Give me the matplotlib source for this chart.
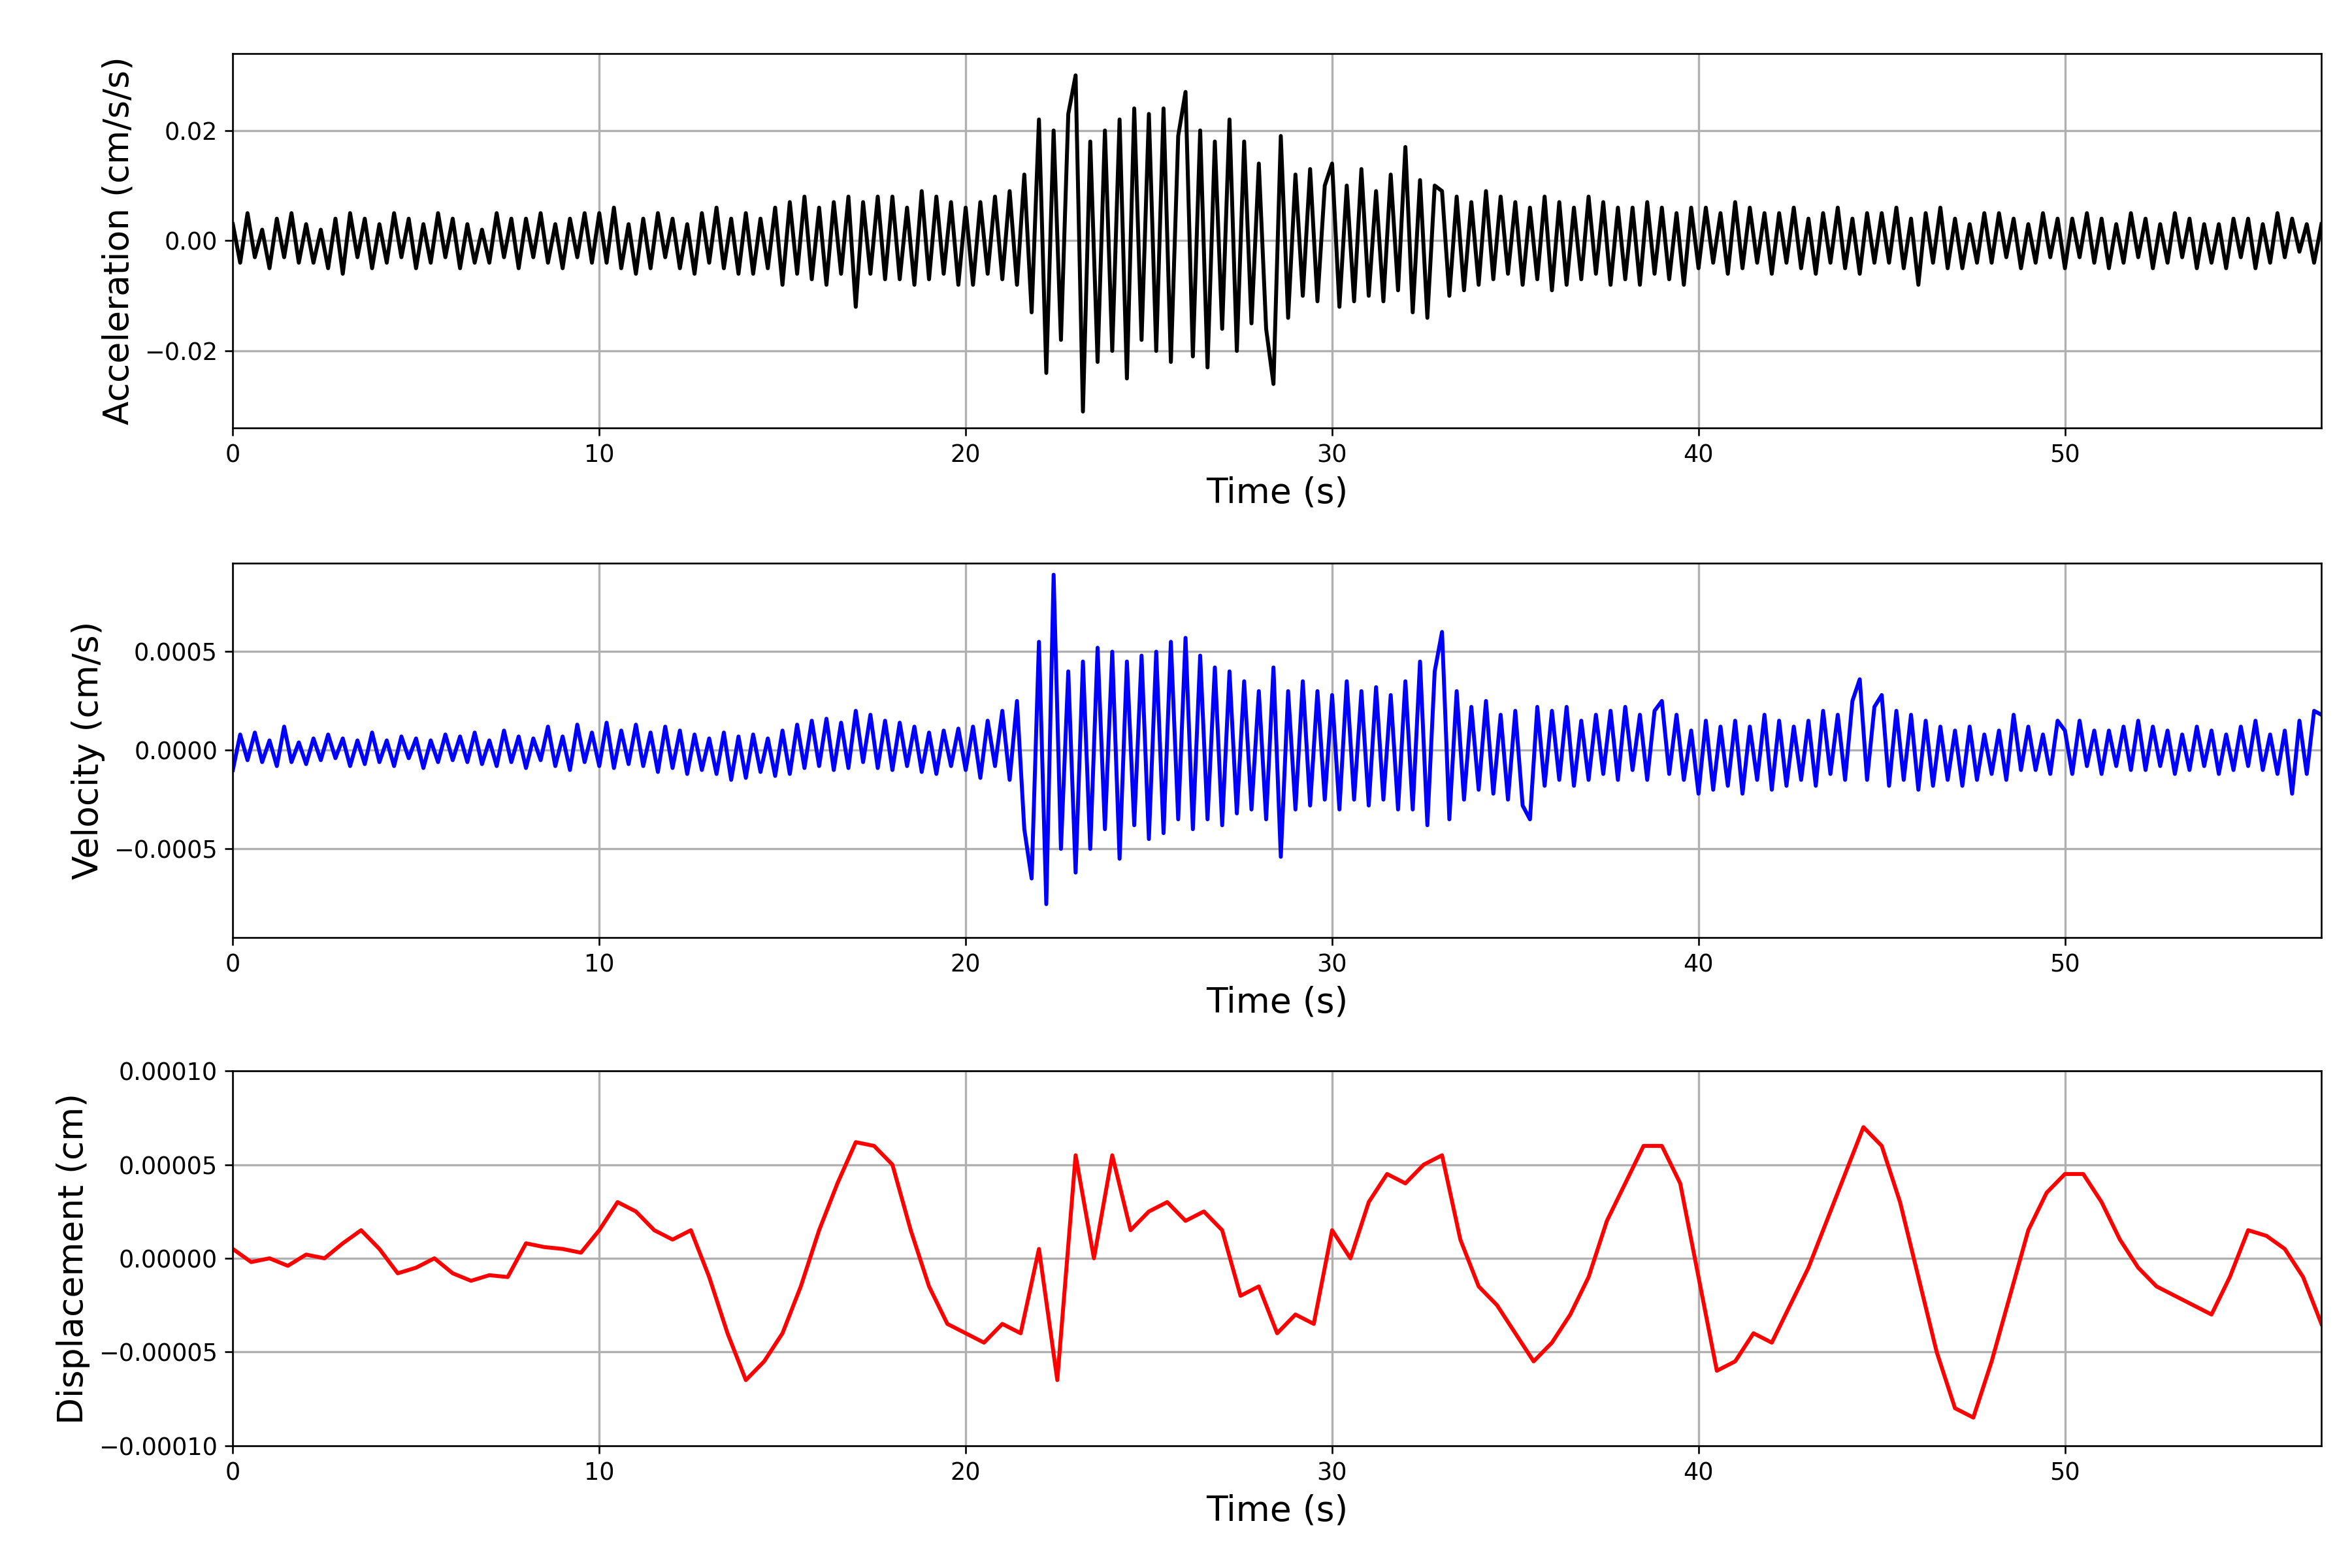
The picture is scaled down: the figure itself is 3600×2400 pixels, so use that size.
import numpy as np
import matplotlib
matplotlib.use("Agg")
import matplotlib.pyplot as plt

acc_milli = [3,-4,5,-3,2, -5,4,-3,5,-4, 3,-4,2,-5,4, -6,5,-3,4,-5, 3,-4,5,-3,4,
 -5,3,-4,5,-3, 4,-5,3,-4,2, -4,5,-3,4,-5, 4,-3,5,-4,3, -5,4,-3,5,-4,
 5,-4,6,-5,3, -6,4,-5,5,-3, 4,-5,3,-6,5, -4,6,-5,4,-6, 5,-6,4,-5,6,
 -8,7,-6,8,-7, 6,-8,7,-6,8, -12,7,-6,8,-7, 8,-7,6,-8,9, -7,8,-6,7,-8,
 6,-8,7,-6,8, -7,9,-8,12,-13, 22,-24,20,-18,23, 30,-31,18,-22,20, -20,22,-25,24,-18,
 23,-20,24,-22,19, 27,-21,20,-23,18, -16,22,-20,18,-15, 14,-16,-26,19,-14, 12,-10,13,-11,10,
 14,-12,10,-11,13, -10,9,-11,12,-9, 17,-13,11,-14,10, 9,-10,8,-9,7, -8,9,-7,8,-6,
 7,-8,6,-7,8, -9,7,-8,6,-7, 8,-6,7,-8,6, -7,6,-8,7,-6, 6,-7,5,-8,6,
 -5,6,-4,5,-6, 7,-5,6,-4,5, -6,5,-4,6,-5, 4,-6,5,-4,6, -5,4,-6,5,-4,
 5,-4,6,-5,4, -8,5,-4,6,-5, 4,-5,3,-4,5, -4,5,-3,4,-5, 3,-4,5,-3,4,
 -5,4,-3,5,-4, 4,-5,3,-4,5, -3,4,-5,3,-4, 5,-3,4,-5,3, -4,3,-5,4,-3,
 4,-5,3,-4,5, -3,4,-2,3,-4, 3]

vel_e5 = [-10,8,-5,9,-6, 5,-8,12,-6,4, -7,6,-5,8,-4, 6,-8,5,-7,9, -6,5,-8,7,-4,
 6,-9,5,-6,8, -5,7,-6,9,-7, 5,-8,10,-6,7, -9,6,-5,12,-8, 7,-10,13,-6,9,
 -8,14,-9,10,-7, 13,-8,9,-11,12, -9,10,-12,8,-10, 6,-12,9,-15,7, -14,8,-11,6,-13,
 10,-12,13,-9,15, -8,16,-10,14,-9, 20,-6,18,-9,15, -10,14,-8,12,-11, 9,-12,10,-8,11,
 -10,12,-14,15,-8, 20,-15,25,-40,-65, 55,-78,89,-50,40, -62,45,-50,52,-40, 50,-55,45,-38,48,
 -45,50,-42,55,-35, 57,-40,48,-35,42, -38,40,-32,35,-30, 30,-35,42,-54,30, -30,35,-28,30,-25,
 28,-30,35,-25,30, -28,32,-25,28,-30, 35,-30,45,-38,40, 60,-35,30,-25,22, -20,25,-22,18,-25,
 20,-28,-35,22,-18, 20,-15,22,-18,15, -15,18,-12,20,-15, 22,-10,18,-15,20, 25,-12,18,-15,10,
 -22,15,-20,12,-18, 15,-22,12,-15,18, -20,15,-18,12,-15, 15,-18,20,-12,18, -15,25,36,-15,22,
 28,-18,20,-15,18, -20,15,-18,12,-15, 10,-18,12,-15,8, -12,10,-15,18,-10, 12,-10,8,-12,15,
 10,-12,15,-8,10, -12,10,-8,12,-10, 15,-10,12,-8,10, -12,8,-10,12,-8, 10,-12,8,-10,12,
 -8,15,-10,8,-12, 10,-22,15,-12,20, 18]

disp_e6 = [5,-2,0,-4,2,0,8,15,5,-8,-5,0,-8,-12,-9,-10,8,6,5,3,
 15,30,25,15,10,15,-10,-40,-65,-55,-40,-15,15,40,62,60,50,15,-15,-35,
 -40,-45,-35,-40,5,-65,55,0,55,15,25,30,20,25,15,-20,-15,-40,-30,-35,
 15,0,30,45,40,50,55,10,-15,-25,-40,-55,-45,-30,-10,20,40,60,60,40,
 -10,-60,-55,-40,-45,-25,-5,20,45,70,60,30,-10,-50,-80,-85,-55,-20,15,35,
 45,45,30,10,-5,-15,-20,-25,-30,-10,15,12,5,-10,-35]

acc = np.array(acc_milli) * 1e-3
vel = np.array(vel_e5) * 1e-5
disp = np.array(disp_e6) * 1e-6
t_acc = np.arange(len(acc)) * 0.2
t_vel = np.arange(len(vel)) * 0.2
t_disp = np.arange(len(disp)) * 0.5

fig = plt.figure(figsize=(15, 10), dpi=240)
specs = [
    (0.727, acc, t_acc, 'black', 'Acceleration (cm/s/s)', (-0.034, 0.034), [-0.02, 0.0, 0.02], lambda v: f"{v:.2f}".replace('-', '\u2212')),
    (0.402, vel, t_vel, 'blue', 'Velocity (cm/s)', (-0.00095, 0.00095), [-0.0005, 0.0, 0.0005], lambda v: f"{v:.4f}".replace('-', '\u2212')),
    (0.078, disp, t_disp, 'red', 'Displacement (cm)', (-0.0001, 0.0001), [-0.0001, -0.00005, 0.0, 0.00005, 0.0001], lambda v: f"{v:.5f}".replace('-', '\u2212')),
]
for bottom, y, t, c, lab, yl, yt, fmt in specs:
    ax = fig.add_axes([0.099, bottom, 0.888, 0.239])
    ax.plot(t, y, color=c, lw=1.8)
    ax.set_xlim(0, 57)
    ax.set_ylim(*yl)
    ax.set_yticks(yt)
    ax.set_yticklabels([fmt(v) for v in yt])
    ax.set_xticks([0, 10, 20, 30, 40, 50])
    ax.grid(True, color='#b0b0b0', lw=1)
    ax.set_axisbelow(True)
    ax.tick_params(labelsize=11)
    ax.set_xlabel('Time (s)', fontsize=16)
    ax.set_ylabel(lab, fontsize=16)

fig.savefig('out.png', dpi=240)
